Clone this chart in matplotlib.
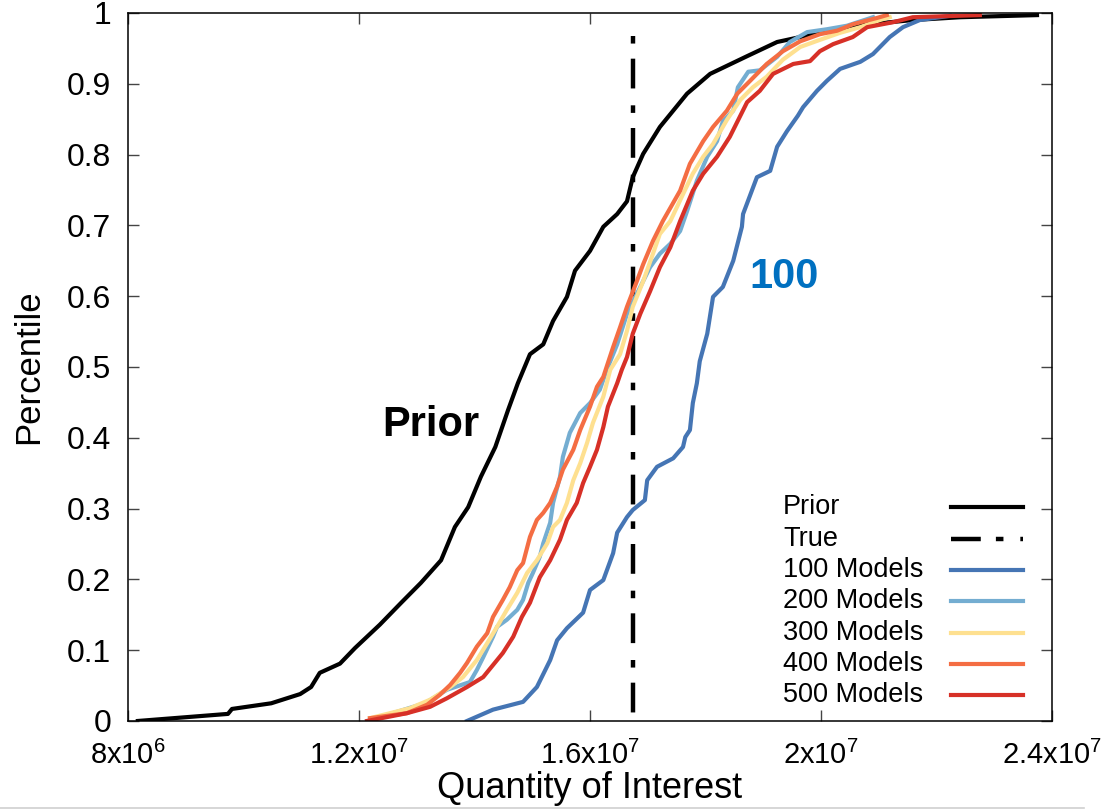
import numpy as np
import matplotlib
matplotlib.use('Agg')
import matplotlib.pyplot as plt
from matplotlib.lines import Line2D

plt.rcParams['font.family'] = ['Liberation Sans', 'DejaVu Sans']
plt.rcParams['mathtext.default'] = 'regular'

# empirical CDFs of the quantity of interest (values in units of 1e6)
prior_q = [8.17, 9.73, 9.80, 10.48, 10.98, 11.17, 11.32, 11.67, 11.93, 12.36, 12.73, 13.07,
           13.42, 13.66, 13.89, 14.11, 14.36, 14.58, 14.75, 14.96, 15.19, 15.36, 15.60, 15.74,
           16.00, 16.23, 16.47, 16.64, 16.74, 16.92, 17.21, 17.68, 18.08, 18.72, 19.24, 19.98,
           20.68, 21.59, 22.41, 23.74]
prior_p = [0.0, 0.010, 0.017, 0.025, 0.038, 0.048, 0.068, 0.081, 0.103, 0.136, 0.167, 0.195,
           0.227, 0.274, 0.302, 0.345, 0.387, 0.439, 0.477, 0.518, 0.532, 0.565, 0.599, 0.636,
           0.664, 0.698, 0.716, 0.734, 0.768, 0.801, 0.839, 0.886, 0.914, 0.939, 0.959, 0.972,
           0.983, 0.990, 0.994, 0.997]

m100_q = [13.87, 14.32, 14.84, 15.08, 15.31, 15.43, 15.60, 15.88, 16.00, 16.23, 16.40, 16.47,
          16.64, 16.74, 16.95, 16.99, 17.16, 17.44, 17.61, 17.65, 17.73, 17.78, 17.85, 17.90,
          18.03, 18.13, 18.30, 18.48, 18.63, 18.65, 18.89, 19.12, 19.24, 19.41, 19.60, 19.69,
          19.93, 20.10, 20.33, 20.68, 20.90, 21.19, 21.42, 21.71, 22.23]
m100_p = [0.0, 0.016, 0.027, 0.048, 0.086, 0.114, 0.131, 0.153, 0.185, 0.199, 0.237, 0.266,
          0.288, 0.298, 0.312, 0.340, 0.359, 0.371, 0.387, 0.401, 0.411, 0.449, 0.477, 0.508,
          0.547, 0.599, 0.613, 0.650, 0.698, 0.716, 0.768, 0.777, 0.811, 0.833, 0.855, 0.867,
          0.890, 0.904, 0.921, 0.931, 0.942, 0.966, 0.980, 0.990, 0.996]

m200_q = [12.14, 13.14, 13.52, 13.92, 14.04, 14.15, 14.32, 14.39, 14.56, 14.74, 14.84, 14.93,
          15.01, 15.13, 15.19, 15.31, 15.36, 15.48, 15.53, 15.65, 15.83, 16.00, 16.17, 16.29,
          16.47, 16.64, 16.87, 17.04, 17.21, 17.39, 17.56, 17.68, 17.85, 18.03, 18.20, 18.30,
          18.48, 18.56, 18.74, 18.94, 19.24, 19.46, 19.76, 20.10, 20.45, 20.90]
m200_p = [0.0, 0.025, 0.044, 0.055, 0.072, 0.090, 0.119, 0.133, 0.143, 0.157, 0.171, 0.195,
          0.209, 0.232, 0.251, 0.280, 0.308, 0.345, 0.373, 0.407, 0.435, 0.449, 0.468, 0.496,
          0.532, 0.575, 0.613, 0.641, 0.660, 0.674, 0.692, 0.720, 0.763, 0.797, 0.819, 0.847,
          0.862, 0.895, 0.917, 0.919, 0.938, 0.959, 0.973, 0.977, 0.982, 0.994]

m300_q = [12.19, 12.88, 13.23, 13.58, 13.80, 14.04, 14.22, 14.39, 14.56, 14.74, 14.91, 15.08,
          15.26, 15.36, 15.48, 15.60, 15.71, 15.83, 15.95, 16.05, 16.23, 16.35, 16.52, 16.64,
          16.74, 16.92, 17.09, 17.21, 17.39, 17.61, 17.78, 17.96, 18.13, 18.37, 18.60, 18.82,
          19.06, 19.34, 19.64, 19.98, 20.33, 20.68, 21.02, 21.19]
m300_p = [0.004, 0.018, 0.030, 0.048, 0.062, 0.086, 0.110, 0.133, 0.157, 0.181, 0.209, 0.227,
          0.251, 0.274, 0.284, 0.308, 0.340, 0.364, 0.393, 0.421, 0.458, 0.496, 0.518, 0.551,
          0.585, 0.621, 0.660, 0.688, 0.706, 0.744, 0.773, 0.797, 0.815, 0.849, 0.877, 0.895,
          0.910, 0.934, 0.952, 0.962, 0.972, 0.980, 0.990, 0.994]

m400_q = [12.19, 12.83, 13.18, 13.40, 13.58, 13.75, 13.87, 14.04, 14.22, 14.32, 14.49, 14.61,
          14.74, 14.84, 14.96, 15.08, 15.19, 15.31, 15.43, 15.53, 15.71, 15.83, 16.00, 16.12,
          16.23, 16.40, 16.52, 16.64, 16.81, 16.92, 17.09, 17.26, 17.56, 17.73, 17.96, 18.13,
          18.37, 18.55, 18.77, 19.06, 19.34, 19.64, 19.98, 20.28, 20.55, 20.97, 21.14]
m400_p = [0.004, 0.011, 0.023, 0.037, 0.051, 0.068, 0.082, 0.105, 0.124, 0.147, 0.171, 0.189,
          0.213, 0.223, 0.260, 0.284, 0.294, 0.308, 0.331, 0.355, 0.383, 0.411, 0.444, 0.472,
          0.486, 0.528, 0.556, 0.585, 0.621, 0.645, 0.678, 0.706, 0.749, 0.787, 0.819, 0.839,
          0.862, 0.886, 0.904, 0.928, 0.946, 0.960, 0.970, 0.975, 0.984, 0.993, 0.997]

m500_q = [12.14, 12.83, 13.23, 13.52, 13.87, 14.15, 14.32, 14.49, 14.67, 14.82, 14.96, 15.13,
          15.31, 15.48, 15.60, 15.77, 15.88, 16.00, 16.12, 16.23, 16.31, 16.47, 16.55, 16.64,
          16.74, 16.87, 17.04, 17.21, 17.39, 17.56, 17.78, 17.96, 18.20, 18.42, 18.72, 18.94,
          19.17, 19.52, 19.81, 19.98, 20.21, 20.55, 20.80, 21.25, 21.59, 22.75]
m500_p = [0.0, 0.011, 0.020, 0.032, 0.048, 0.062, 0.079, 0.096, 0.119, 0.147, 0.167, 0.203,
          0.227, 0.256, 0.284, 0.308, 0.336, 0.359, 0.383, 0.415, 0.444, 0.477, 0.496, 0.514,
          0.547, 0.575, 0.607, 0.641, 0.669, 0.706, 0.749, 0.773, 0.797, 0.825, 0.874, 0.890,
          0.914, 0.928, 0.932, 0.946, 0.956, 0.966, 0.980, 0.987, 0.994, 0.997]

true_q = 16.74
true_top = 0.968

x_ticks = [8e6, 1.2e7, 1.6e7, 2e7, 2.4e7]
x_ticklabels = ['8x10$^6$', '1.2x10$^7$', '1.6x10$^7$', '2x10$^7$', '2.4x10$^7$']
y_ticks = np.round(np.arange(0, 1.01, 0.1), 1)
y_ticklabels = ['0', '0.1', '0.2', '0.3', '0.4', '0.5', '0.6', '0.7', '0.8', '0.9', '1']

series = [
    ('100 Models', m100_q, m100_p, '#4575b4'),
    ('200 Models', m200_q, m200_p, '#74add1'),
    ('300 Models', m300_q, m300_p, '#fee090'),
    ('400 Models', m400_q, m400_p, '#f46d43'),
    ('500 Models', m500_q, m500_p, '#d73027'),
]

#%%
f = plt.figure(figsize=(11.01, 8.11), dpi=100, facecolor='white')
ax = f.add_axes([0.1163, 0.111, 0.8392, 0.873])
lw = 3.0
true_dash = (1.7, 3.4, 6.7, 3.8)

handles = []
ax.plot(np.array(prior_q)*1e6, prior_p, '-', color='black', lw=lw)
handles.append(('Prior', dict(color='black', lw=lw)))
ax.plot([true_q*1e6, true_q*1e6], [true_top, 0.0], color='black', lw=3.2, dashes=true_dash)
handles.append(('True', dict(color='black', lw=3.2, dashes=(6.7, 3.4, 1.7, 3.8))))
for name, q, p, c in series:
    ax.plot(np.array(q)*1e6, p, '-', color=c, lw=lw)
    handles.append((name, dict(color=c, lw=lw)))

ax.set_xlim(8e6, 2.4e7)
ax.set_ylim(0, 1)
ax.set_xticks(x_ticks)
ax.set_xticklabels(x_ticklabels)
ax.set_yticks(y_ticks)
ax.set_yticklabels(y_ticklabels)
ax.tick_params(axis='both', which='major', direction='in', length=8, width=1.0,
               color='#444444', top=True, right=True)
ax.tick_params(axis='x', labelsize=21, pad=14)
ax.tick_params(axis='y', labelsize=23, pad=12)
for s in ax.spines.values():
    s.set_linewidth(1.1)

ax.set_xlabel('Quantity of Interest', fontsize=26, labelpad=1)
ax.set_ylabel('Percentile', fontsize=25, labelpad=16)

ax.text(13.25e6, 0.418, 'Prior', fontsize=30, fontweight='bold', ha='center', va='center')
ax.text(19.36e6, 0.627, '100', fontsize=30, fontweight='bold', color='#0070c0',
        ha='center', va='center')

# key: label on the left, line sample on the right
row_y = 0.302
for name, kw in handles:
    ax.text(0.709, row_y, name, transform=ax.transAxes, fontsize=19.5,
            ha='left', va='center')
    ax.plot([0.891, 0.9686], [row_y, row_y], transform=ax.transAxes,
            clip_on=False, **kw)
    row_y -= 0.0443

# thin grey rule along the bottom edge
f.add_artist(Line2D([0, 0.985], [0.0037, 0.0037], transform=f.transFigure,
                    color='#d0d0d0', lw=1.2))

f.savefig('out.png', dpi=100)
